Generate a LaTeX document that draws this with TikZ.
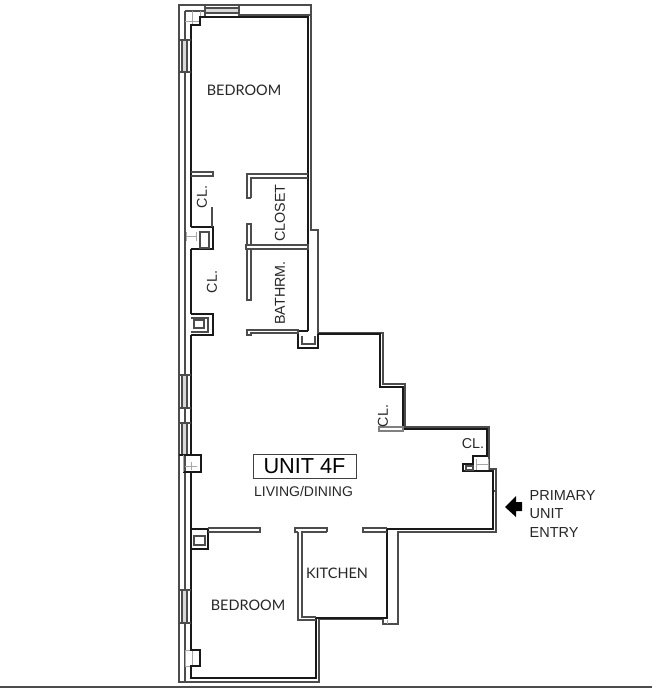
\documentclass[tikz,border=0pt]{standalone}
\usepackage{fontspec}
\setmainfont{Liberation Sans}
\newfontfamily\roomfont{Lato}
\tikzset{
	wall/.style={line width=2.2pt,black!90},
	thinwall/.style={line width=1.1pt,black!70},
	graywall/.style={line width=1pt,black!35},
	room/.style={font=\roomfont\fontsize{14.5}{16}\selectfont,black!85},
	tag/.style={font=\fontsize{14.3}{16}\selectfont,black!85},
}
\begin{document}
\begin{tikzpicture}[x=1pt,y=-1pt]
	\useasboundingbox (0,0) rectangle (652,688);
	\coordinate (A) at (179,5);
	\coordinate (B) at (311,5);

	% outer skin of the building
	\draw[thinwall] (A) -- (B) -- (311,230) -- (318,230) -- (318,333) -- (383,333) -- (383,384) -- (405,384) -- (405,427) -- (489,427) -- (489,469) -- (496,469) -- (496,532) -- (398,532) -- (398,624) -- (383,624) -- (383,619) -- (319,619) -- (319,682) -- (179,682) -- cycle;
	\draw[thinwall] (185,11) -- (185,682);
	\draw[thinwall] (185,11) -- (205,11);
	\draw[thinwall] (240,15) -- (311,15);
	\draw[graywall] (387,620) -- (387,624);
	\draw[thinwall] (493,491) -- (496,491);

	% corner columns, lighter
	\draw[graywall] (192,11) -- (192,25) (185,21) -- (200,21) (200,11) -- (200,17);
	\draw[graywall] (185,650) rectangle (200,666);
	\draw[graywall] (192,650) -- (192,666);
	\draw[graywall] (186,232) -- (186,241) (196,232) -- (196,241) (186,236) -- (196,236);
	\draw[graywall] (476,459) -- (476,470) (488,459) -- (488,470) (476,464) -- (488,464);

	% thick inner line
	\draw[wall] (191,227) -- (191,25) -- (200,25) -- (200,17) -- (308,17) -- (308,331);
	\draw[wall] (191,249) -- (191,314);
	\draw[wall] (191,335) -- (191,455);
	\draw[wall] (191,472) -- (191,650) -- (200,650) -- (200,666) -- (191,666) -- (191,678) -- (316,678) -- (316,618) -- (387,618) -- (387,529) -- (493,529) -- (493,471) -- (463,471) -- (463,464) -- (473,464) -- (473,456) -- (487,456) -- (487,429) -- (403,429) -- (403,387) -- (380,387) -- (380,334) -- (318,334);

	% windows on the long side
	\foreach \ya/\yb in {40/72,375/408,423/455,590/623}{
		\draw[thinwall] (179,\ya) -- (191,\ya) (179,\yb) -- (191,\yb);
		\draw[thinwall,fill=black!15] (182,\ya) rectangle (187,\yb);
	}
	\draw[thinwall] (205,5) -- (205,16) (239,5) -- (239,16);
	\draw[thinwall,fill=black!15] (205,8) rectangle (239,13);

	% chases
	\draw[wall] (191,227) -- (213,227) -- (213,249) -- (191,249);
	\draw[thinwall] (200,232) rectangle (209,248);
	\draw[wall] (191,314) -- (213,314) -- (213,335) -- (191,335);
	\draw[thinwall] (194,320) rectangle (204,328);
	\draw[thinwall] (191,318) -- (208,318) -- (208,332) -- (191,332);
	\draw[wall] (191,529) -- (208,529) -- (208,549) -- (191,549);
	\draw[thinwall] (194,536) rectangle (205,545);
	\draw[wall] (298,331) -- (298,348) -- (318,348) -- (318,334);
	\draw[wall] (298,331) -- (308,331);
	\draw[thinwall] (302,336) -- (302,344) -- (315,344) -- (315,336);
	\draw[wall] (179,455) -- (201,455) -- (201,472) -- (183,472);
	\draw[graywall] (183,455) -- (183,472) (191,462) -- (191,470) (185,466) -- (197,466);
	\draw[thinwall] (466,466) rectangle (473,470);

	% partitions
	\draw[thinwall] (191,172) -- (213,172) -- (213,176) -- (191,176);
	\draw[thinwall] (212,207) -- (212,227);
	\draw[thinwall] (251,198) -- (251,178) -- (308,178);
	\draw[thinwall] (251,198) -- (247,198) -- (247,174) -- (308,174);
	\draw[thinwall] (247,224) rectangle (251,300);
	\draw[thinwall,fill=white] (246,245) rectangle (308,249);
	\draw[thinwall,fill=white] (247,330) -- (298,330) -- (298,333) -- (251,333) -- (251,335) -- (247,335) -- cycle;
	\draw[graywall,line width=1.2pt,black!50] (379,427) rectangle (403,431);

	% walls around the kitchen
	\draw[thinwall] (208,528) -- (260,528) -- (260,532) -- (208,532);
	\draw[thinwall] (327,532) -- (302,532) -- (302,617) -- (316,617);
	\draw[thinwall] (298,532) -- (295,532) -- (295,528) -- (327,528) -- (327,532);
	\draw[thinwall] (298,532) -- (298,620) -- (316,620);
	\draw[thinwall] (387,528) -- (363,528) -- (363,532) -- (387,532);

	% arrow
	\draw[fill=black,draw=none] (505,507) -- (516,496) -- (516,502) -- (522,502) -- (522,511) -- (516,511) -- (516,517) -- cycle;

	\node[room] (bedroomtop) at (244,90) {BEDROOM};
	\node[room] (bedroomlow) at (248,605) {BEDROOM};
	\node[room] (kitchen) at (337,573) {KITCHEN};
	\node[tag,rotate=90] (closet) at (280,213) {CLOSET};
	\node[tag,rotate=90] (bathrm) at (280,293) {BATHRM.};
	\node[tag,rotate=90] (clone) at (202,197) {CL.};
	\node[tag,rotate=90] (cltwo) at (212,282) {CL.};
	\node[tag,rotate=90] (clthree) at (383,416) {CL.};
	\node[tag] (clfour) at (473,444) {CL.};
	\node[draw=black!75,line width=1pt,minimum width=103pt,minimum height=24pt,inner sep=0pt,font=\fontsize{21.7}{24}\selectfont] (unit) at (304.5,466) {UNIT 4F};
	\node[font=\fontsize{14}{16}\selectfont,black!85] (living) at (303.5,491) {LIVING/DINING};
	\node[tag,font=\fontsize{14.5}{18.5}\selectfont,align=left,anchor=west,inner sep=0pt] (entry) at (529.5,514) {PRIMARY\\UNIT\\ENTRY};

	% strip along the lower edge
	\fill[black!70] (0,686) rectangle (652,688);
\end{tikzpicture}
\end{document}
